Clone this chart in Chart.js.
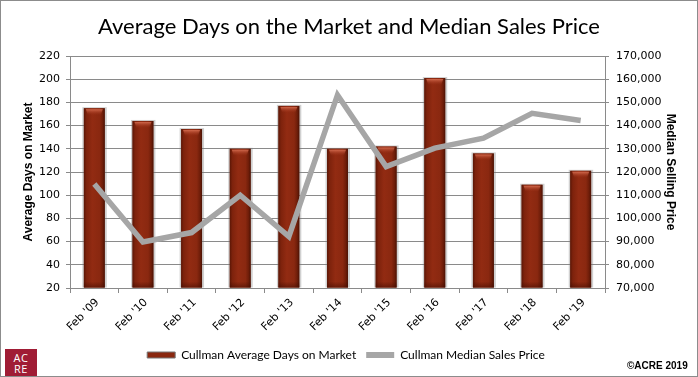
<!DOCTYPE html>
<html>
<head>
<meta charset="utf-8">
<script src="https://cdn.jsdelivr.net/npm/chart.js@4.4.1/dist/chart.umd.min.js"></script>
<style>
  html, body { margin: 0; padding: 0; background: #fff; }
  #wrap { position: relative; width: 698px; height: 377px; overflow: hidden; background: #fff; }
  #frame { position: absolute; left: 0; top: 0; width: 698px; height: 377px; box-sizing: border-box; border: 1px solid #8c8c8c; pointer-events: none; }
  #title { position: absolute; left: 0; top: 12px; width: 698px; text-align: center; font-family: Lato, "Open Sans", sans-serif; font-size: 22px; color: #000; white-space: nowrap; }
  #logo { position: absolute; left: 5px; top: 349px; width: 32px; height: 28px; background: #a01c35; color: #fff; font-family: "Open Sans", sans-serif; font-size: 11px; line-height: 11px; text-align: center; padding-top: 3px; box-sizing: border-box; letter-spacing: 0.5px; }
  #copy { position: absolute; left: 627px; top: 360px; font-family: "Liberation Sans", sans-serif; font-weight: bold; font-size: 10px; color: #000; }
  canvas { position: absolute; left: 0; top: 0; }
</style>
</head>
<body>
<div id="wrap">
  <canvas id="c" width="698" height="377"></canvas>
  <div id="title">Average Days on the Market and Median Sales Price</div>
  <div id="logo">AC<br>RE</div>
  <div id="copy">©ACRE 2019</div>
  <div id="frame"></div>
</div>
<script>
const categories = ["Feb '09", "Feb '10", "Feb '11", "Feb '12", "Feb '13", "Feb '14", "Feb '15", "Feb '16", "Feb '17", "Feb '18", "Feb '19"];
const avgDaysOnMarket = [175, 164, 157, 140, 177, 140, 142, 201, 136, 109, 121];
const medianSalesPrice = [114800, 89800, 93900, 110000, 92200, 153200, 122300, 130300, 134600, 145300, 142200];
const leftTicks = { min: 20, max: 220, step: 20 };
const rightTicks = { min: 70000, max: 170000, step: 10000 };
const seriesNames = ["Cullman Average Days on Market", "Cullman Median Sales Price"];

const barStyle = {
  id: 'barStyle',
  afterDatasetDraw(chart, args) {
    if (args.index !== 0) return;
    const ctx = chart.ctx;
    const area = chart.chartArea;
    const meta = chart.getDatasetMeta(0);
    ctx.save();
    ctx.beginPath();
    ctx.rect(area.left, area.top - 2, area.right - area.left, area.bottom - area.top + 2);
    ctx.clip();
    meta.data.forEach(el => {
      const p = el.getProps(['x', 'y', 'base', 'width'], true);
      const l = p.x - p.width / 2, r = p.x + p.width / 2;
      const t = p.y, b = Math.min(p.base, area.bottom);
      ctx.fillStyle = 'rgba(120,120,120,0.35)';
      ctx.fillRect(l - 1.5, t - 1, p.width + 3.5, b - t + 1);
      const g = ctx.createLinearGradient(l, 0, r, 0);
      g.addColorStop(0, '#5a1606');
      g.addColorStop(0.12, '#7d220c');
      g.addColorStop(0.4, '#922b12');
      g.addColorStop(0.75, '#8a2810');
      g.addColorStop(0.9, '#6e1d09');
      g.addColorStop(1, '#4a1204');
      ctx.fillStyle = g;
      ctx.fillRect(l, t, p.width, b - t);
      const hg = ctx.createLinearGradient(0, t, 0, t + 7);
      hg.addColorStop(0, 'rgba(235,130,100,0.95)');
      hg.addColorStop(1, 'rgba(160,50,25,0)');
      ctx.fillStyle = hg;
      ctx.beginPath();
      ctx.moveTo(l + 2, t + 1);
      ctx.lineTo(r - 2, t + 1);
      ctx.lineTo(r - 4, t + 7);
      ctx.lineTo(l + 4, t + 7);
      ctx.closePath();
      ctx.fill();
      const bg = ctx.createLinearGradient(0, b - 6, 0, b);
      bg.addColorStop(0, 'rgba(60,10,0,0)');
      bg.addColorStop(1, 'rgba(60,10,0,0.5)');
      ctx.fillStyle = bg;
      ctx.fillRect(l, b - 6, p.width, 6);
    });
    ctx.restore();
  }
};

const gridColor = '#8a8a8a';
const tickFont = { family: 'DejaVu Sans', size: 11 };
const axisTitleFont = { family: 'Liberation Sans', size: 12, weight: 'bold' };

new Chart(document.getElementById('c'), {
  data: {
    labels: categories,
    datasets: [
      {
        type: 'bar',
        label: seriesNames[0],
        data: avgDaysOnMarket,
        yAxisID: 'y',
        base: leftTicks.min,
        backgroundColor: '#8a2810',
        borderWidth: 0,
        categoryPercentage: 1,
        barPercentage: 0.43,
        order: 2
      },
      {
        type: 'line',
        label: seriesNames[1],
        data: medianSalesPrice,
        yAxisID: 'y1',
        borderColor: '#a6a6a6',
        backgroundColor: '#a6a6a6',
        borderWidth: 5.5,
        pointRadius: 0,
        tension: 0,
        order: 1
      }
    ]
  },
  options: {
    responsive: false,
    animation: false,
    layout: { padding: { top: 56, left: 14, right: 20, bottom: 6 } },
    plugins: {
      tooltip: { enabled: false },
      legend: {
        position: 'bottom',
        labels: {
          sort: (a, b) => a.datasetIndex - b.datasetIndex,
          boxWidth: 28,
          boxHeight: 6,
          padding: 10,
          color: '#000',
          font: { family: 'Lato', size: 12 },
          generateLabels(chart) {
            return chart.data.datasets.map((ds, i) => ({
              text: ds.label,
              fillStyle: i === 0 ? '#8a2810' : '#a6a6a6',
              strokeStyle: i === 0 ? '#777' : '#a6a6a6',
              lineWidth: i === 0 ? 1 : 0,
              hidden: false,
              datasetIndex: i
            }));
          }
        }
      }
    },
    scales: {
      x: {
        offset: true,
        grid: { offset: true, drawOnChartArea: false, drawTicks: true, tickLength: 5, color: gridColor },
        border: { color: gridColor },
        ticks: { color: '#000', font: { family: 'DejaVu Sans', size: 11 }, maxRotation: 45, minRotation: 45, padding: 3, labelOffset: 3, autoSkip: false },
        afterFit(s) { s.height = 51; }
      },
      y: {
        position: 'left',
        min: leftTicks.min, max: leftTicks.max,
        ticks: { stepSize: leftTicks.step, color: '#000', font: tickFont, padding: 6 },
        grid: { color: gridColor, tickLength: 4 },
        border: { color: gridColor },
        title: { display: true, text: 'Average Days on Market', color: '#000', font: axisTitleFont, padding: { top: 7, bottom: 0 } },
        afterFit(s) { s.width = 56; }
      },
      y1: {
        position: 'right',
        min: rightTicks.min, max: rightTicks.max,
        ticks: { stepSize: rightTicks.step, color: '#000', font: tickFont, padding: 7,
          callback: v => Number(v).toLocaleString('en-US') },
        grid: { drawOnChartArea: false, color: gridColor, tickLength: 4 },
        border: { color: gridColor },
        title: { display: true, text: 'Median Selling Price', color: '#000', font: axisTitleFont, padding: { top: 0, bottom: 0 } },
        afterFit(s) { s.width = 73; }
      }
    }
  },
  plugins: [barStyle]
});
</script>
</body>
</html>
